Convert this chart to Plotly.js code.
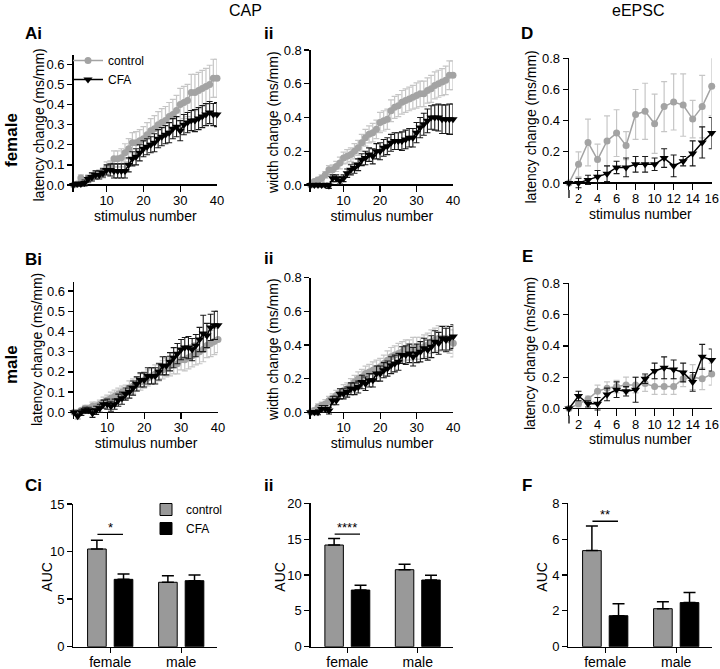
<!DOCTYPE html>
<html>
<head>
<meta charset="utf-8">
<script src="https://cdn.plot.ly/plotly-3.0.1.min.js"></script>
<style>html,body{margin:0;padding:0;background:#fff}#chart{width:720px;height:669px}</style>
</head>
<body>
<div id="chart"></div>
<script>
// ---------- data ----------
const stim40 = [1,2,3,4,5,6,7,8,9,10,11,12,13,14,15,16,17,18,19,20,21,22,23,24,25,26,27,28,29,30,31,32,33,34,35,36,37,38,39,40];
const stim16 = [1,2,3,4,5,6,7,8,9,10,11,12,13,14,15,16];

// Ai: female CAP latency change
const aiControl = [0,0.005,0.035,0.02,0.03,0.04,0.05,0.055,0.06,0.085,0.09,0.13,0.13,0.135,0.16,0.18,0.21,0.21,0.22,0.23,0.25,0.27,0.28,0.3,0.31,0.32,0.34,0.35,0.37,0.4,0.41,0.42,0.46,0.46,0.47,0.48,0.49,0.5,0.53,0.53];
const aiControlErr = [0,0.01,0.015,0.015,0.02,0.02,0.02,0.02,0.025,0.03,0.03,0.04,0.04,0.045,0.045,0.05,0.05,0.055,0.055,0.06,0.06,0.06,0.065,0.065,0.07,0.07,0.07,0.075,0.075,0.08,0.08,0.08,0.09,0.09,0.09,0.09,0.09,0.095,0.095,0.095];
const aiCFA = [0,0.005,0.005,0.01,0.03,0.04,0.05,0.05,0.06,0.075,0.075,0.07,0.07,0.07,0.07,0.1,0.13,0.14,0.16,0.18,0.19,0.2,0.21,0.23,0.24,0.25,0.26,0.28,0.29,0.27,0.3,0.31,0.32,0.32,0.33,0.34,0.35,0.36,0.35,0.35];
const aiCFAErr = [0,0.01,0.01,0.015,0.015,0.02,0.02,0.02,0.02,0.025,0.03,0.035,0.035,0.035,0.035,0.035,0.035,0.04,0.04,0.04,0.04,0.04,0.045,0.045,0.045,0.045,0.05,0.05,0.05,0.05,0.05,0.05,0.05,0.055,0.055,0.055,0.055,0.055,0.055,0.06];

// Aii: female CAP width change
const aiiControl = [0,0.02,0.03,0.04,0.06,0.09,0.09,0.11,0.13,0.16,0.17,0.18,0.2,0.22,0.25,0.28,0.3,0.31,0.33,0.37,0.38,0.39,0.44,0.46,0.47,0.49,0.5,0.51,0.52,0.53,0.54,0.54,0.56,0.57,0.59,0.6,0.61,0.62,0.65,0.65];
const aiiControlErr = [0,0.01,0.015,0.02,0.02,0.025,0.03,0.03,0.035,0.035,0.04,0.04,0.045,0.045,0.05,0.05,0.05,0.055,0.055,0.06,0.06,0.06,0.065,0.065,0.065,0.07,0.07,0.07,0.07,0.075,0.075,0.075,0.075,0.08,0.08,0.08,0.08,0.085,0.085,0.085];
const aiiCFA = [0,0,0,0,0,-0.005,0.04,0.04,0.025,0.04,0.07,0.09,0.1,0.12,0.15,0.16,0.18,0.17,0.2,0.2,0.22,0.23,0.25,0.26,0.26,0.26,0.27,0.28,0.28,0.31,0.34,0.36,0.38,0.4,0.4,0.4,0.39,0.39,0.39,0.39];
const aiiCFAErr = [0,0.01,0.01,0.01,0.01,0.015,0.02,0.02,0.02,0.02,0.025,0.03,0.03,0.035,0.035,0.04,0.04,0.045,0.045,0.05,0.05,0.05,0.05,0.05,0.05,0.055,0.055,0.055,0.055,0.06,0.06,0.065,0.07,0.07,0.075,0.08,0.085,0.085,0.09,0.09];

// Bi: male CAP latency change
const biControl = [0,0,0.01,0.02,0.02,0.03,0.03,0.04,0.05,0.06,0.07,0.08,0.09,0.1,0.1,0.12,0.13,0.14,0.15,0.16,0.17,0.18,0.19,0.2,0.21,0.22,0.23,0.24,0.24,0.26,0.26,0.27,0.28,0.29,0.3,0.31,0.33,0.34,0.35,0.36];
const biControlErr = [0,0.01,0.01,0.015,0.015,0.02,0.02,0.02,0.025,0.025,0.03,0.03,0.03,0.03,0.035,0.035,0.035,0.035,0.04,0.04,0.04,0.04,0.045,0.045,0.045,0.045,0.05,0.05,0.05,0.05,0.055,0.055,0.055,0.055,0.06,0.06,0.06,0.065,0.065,0.065];
const biCFA = [0,-0.02,0,0.01,0.01,-0.005,0.01,0.02,0.04,0.04,0.03,0.04,0.06,0.07,0.09,0.1,0.12,0.14,0.16,0.16,0.18,0.18,0.18,0.2,0.23,0.23,0.25,0.27,0.29,0.31,0.32,0.32,0.31,0.33,0.36,0.39,0.38,0.42,0.43,0.43];
const biCFAErr = [0,0.015,0.015,0.015,0.015,0.02,0.02,0.02,0.02,0.025,0.025,0.025,0.03,0.03,0.03,0.03,0.035,0.035,0.035,0.035,0.04,0.04,0.04,0.04,0.045,0.045,0.045,0.05,0.05,0.05,0.05,0.055,0.055,0.055,0.06,0.09,0.06,0.065,0.07,0.07];

// Bii: male CAP width change
const biiControl = [0,0.01,0.03,0.04,0.05,0.07,0.08,0.1,0.11,0.13,0.14,0.16,0.18,0.2,0.21,0.23,0.24,0.25,0.26,0.27,0.29,0.31,0.33,0.34,0.35,0.36,0.37,0.37,0.38,0.38,0.38,0.39,0.4,0.42,0.43,0.44,0.44,0.44,0.43,0.41];
const biiControlErr = [0,0.015,0.02,0.02,0.025,0.025,0.03,0.03,0.03,0.035,0.035,0.04,0.04,0.04,0.045,0.045,0.045,0.05,0.05,0.05,0.05,0.055,0.055,0.055,0.06,0.06,0.06,0.06,0.065,0.065,0.065,0.07,0.07,0.07,0.07,0.075,0.075,0.075,0.08,0.08];
const biiCFA = [0,0,0,0.02,0.02,0.01,0.07,0.07,0.11,0.11,0.12,0.14,0.14,0.15,0.18,0.17,0.19,0.19,0.23,0.23,0.25,0.26,0.28,0.29,0.3,0.34,0.34,0.35,0.33,0.35,0.36,0.38,0.37,0.39,0.42,0.41,0.44,0.43,0.44,0.45];
const biiCFAErr = [0,0.01,0.015,0.02,0.02,0.02,0.025,0.025,0.03,0.03,0.03,0.035,0.035,0.035,0.04,0.04,0.04,0.04,0.045,0.045,0.045,0.045,0.05,0.05,0.05,0.05,0.055,0.055,0.055,0.055,0.06,0.06,0.06,0.065,0.065,0.065,0.07,0.07,0.07,0.07];

// D: female eEPSC latency change
const dControl = [0,0.12,0.26,0.15,0.27,0.32,0.24,0.44,0.46,0.38,0.49,0.52,0.5,0.41,0.49,0.62];
const dControlErr = [0,0.08,0.15,0.1,0.16,0.15,0.09,0.16,0.18,0.19,0.16,0.18,0.2,0.12,0.2,0.19];
const dCFA = [0,0,0.02,0.04,0.06,0.1,0.1,0.12,0.12,0.12,0.16,0.11,0.14,0.19,0.26,0.32];
const dCFAErr = [0,0.03,0.03,0.04,0.05,0.04,0.06,0.05,0.05,0.04,0.06,0.07,0.03,0.08,0.1,0.1];

// E: male eEPSC latency change
const eControl = [0,0.03,0.06,0.11,0.13,0.14,0.15,0.15,0.16,0.14,0.14,0.14,0.19,0.2,0.19,0.22];
const eControlErr = [0,0.02,0.02,0.04,0.04,0.04,0.05,0.05,0.05,0.05,0.05,0.05,0.05,0.08,0.07,0.07];
const eCFA = [0,0.08,0.03,0.03,0.09,0.12,0.11,0.12,0.19,0.24,0.26,0.25,0.23,0.17,0.33,0.31];
const eCFAErr = [0,0.03,0.02,0.04,0.04,0.05,0.03,0.08,0.03,0.05,0.07,0.06,0.06,0.06,0.08,0.07];

// AUC bars
const sexes = ['female','male'];
const ciControl = [10.27, 6.77];   const ciControlErr = [0.93, 0.70];
const ciCFA = [7.08, 6.94];        const ciCFAErr = [0.56, 0.60];
const ciiControl = [14.18, 10.74]; const ciiControlErr = [0.92, 0.75];
const ciiCFA = [7.9, 9.3];         const ciiCFAErr = [0.66, 0.65];
const fControl = [5.36, 2.12];     const fControlErr = [1.38, 0.39];
const fCFA = [1.73, 2.46];         const fCFAErr = [0.67, 0.56];
const sigLevels = {ci: 11.8, cii: 15.7, f: 7.0};
const sigLabels = {ci: '*', cii: '****', f: '**'};

// ---------- layout helpers ----------
const W = 720, H = 669;
const FONT = 'Liberation Sans, Arial, Helvetica, sans-serif';
const px = v => v / W;
const py = v => 1 - v / H;
const GREY = '#a3a3a3', GREY_ERR = '#c6c6c6';

const traces = [];
function lineTraces(n, x, c, ce, f, fe, legendOn) {
  const xa = 'x' + (n === 1 ? '' : n), ya = 'y' + (n === 1 ? '' : n);
  traces.push({
    type: 'scatter', mode: 'lines+markers', x: x, y: c, xaxis: xa, yaxis: ya,
    name: 'control', showlegend: !!legendOn, legend: 'legend', cliponaxis: false,
    line: {color: GREY, width: 1.5},
    marker: {symbol: 'circle', size: 7, color: GREY},
    error_y: {type: 'data', array: ce, color: GREY_ERR, thickness: 1.2, width: 3}
  });
  traces.push({
    type: 'scatter', mode: 'lines+markers', x: x, y: f, xaxis: xa, yaxis: ya,
    name: 'CFA', showlegend: !!legendOn, legend: 'legend', cliponaxis: false,
    line: {color: '#000', width: 1.5},
    marker: {symbol: 'triangle-down', size: 8, color: '#000'},
    error_y: {type: 'data', array: fe, color: '#1a1a1a', thickness: 1.1, width: 3}
  });
}
function barTraces(n, c, ce, f, fe, legendOn) {
  const xa = 'x' + n, ya = 'y' + n;
  traces.push({
    type: 'bar', x: sexes, y: c, xaxis: xa, yaxis: ya, name: 'control',
    showlegend: !!legendOn, legend: 'legend2',
    marker: {color: '#999999', line: {color: '#000', width: 1}},
    error_y: {type: 'data', symmetric: false, array: ce, arrayminus: [0,0], color: '#000', thickness: 1.5, width: 6}
  });
  traces.push({
    type: 'bar', x: sexes, y: f, xaxis: xa, yaxis: ya, name: 'CFA',
    showlegend: !!legendOn, legend: 'legend2',
    marker: {color: '#000000', line: {color: '#000', width: 1}},
    error_y: {type: 'data', symmetric: false, array: fe, arrayminus: [0,0], color: '#000', thickness: 1.5, width: 6}
  });
}

lineTraces(1, stim40, aiControl, aiControlErr, aiCFA, aiCFAErr, true);
lineTraces(2, stim40, aiiControl, aiiControlErr, aiiCFA, aiiCFAErr);
lineTraces(3, stim16, dControl, dControlErr, dCFA, dCFAErr);
lineTraces(4, stim40, biControl, biControlErr, biCFA, biCFAErr);
lineTraces(5, stim40, biiControl, biiControlErr, biiCFA, biiCFAErr);
lineTraces(6, stim16, eControl, eControlErr, eCFA, eCFAErr);
barTraces(7, ciControl, ciControlErr, ciCFA, ciCFAErr, true);
barTraces(8, ciiControl, ciiControlErr, ciiCFA, ciiCFAErr);
barTraces(9, fControl, fControlErr, fCFA, fCFAErr);

const axBase = {linecolor: '#000', linewidth: 1.3, tickcolor: '#000',
  tickwidth: 1.3, showgrid: false, tickfont: {family: FONT, size: 13, color: '#000'}};

const layout = {
  width: W, height: H, margin: {l: 0, r: 0, t: 0, b: 0},
  paper_bgcolor: '#fff', plot_bgcolor: 'rgba(0,0,0,0)',
  font: {family: FONT, size: 13, color: '#000'},
  barmode: 'group', bargap: 0.25, bargroupgap: 0.3,
  showlegend: true,
  legend: {x: px(68), y: py(46), xanchor: 'left', yanchor: 'top', bgcolor: 'rgba(0,0,0,0)',
    font: {family: FONT, size: 12}, tracegroupgap: 0, itemwidth: 30},
  legend2: {x: px(146), y: py(495), xanchor: 'left', yanchor: 'top', bgcolor: 'rgba(0,0,0,0)',
    font: {family: FONT, size: 12}, tracegroupgap: 0, itemwidth: 30},
  annotations: [], shapes: []
};

// line panel geometry: [n, left, right, top, bottom, yrange, xrange, xtickvals, ytickvals, axis-extension bottom px]
const linePanels = [
  [1, 73.5, 217, 55, 192, [-0.0348, 0.646], [1, 40], [10,20,30,40], [0,0.1,0.2,0.3,0.4,0.5,0.6], 0],
  [2, 310.7, 453, 50, 192, [-0.0415, 0.8], [1, 40], [10,20,30,40], [0,0.2,0.4,0.6,0.8], 0],
  [3, 569, 711.7, 58.3, 190, [-0.0449, 0.8], [1, 16], [2,4,6,8,10,12,14,16], [0,0.2,0.4,0.6,0.8], 198],
  [4, 74, 218, 282, 419.3, [-0.0346, 0.6444], [1, 40], [10,20,30,40], [0,0.1,0.2,0.3,0.4,0.5,0.6], 0],
  [5, 310.7, 453.3, 277.7, 419.3, [-0.0416, 0.8], [1, 40], [10,20,30,40], [0,0.2,0.4,0.6,0.8], 0],
  [6, 569, 711.7, 283.3, 415.5, [-0.0447, 0.8], [1, 16], [2,4,6,8,10,12,14,16], [0,0.2,0.4,0.6,0.8], 423.5]
];
linePanels.forEach(p => {
  const [n, l, r, t, b, yr, xr, xt, yt, ext] = p;
  const k = n === 1 ? '' : n;
  layout['xaxis' + k] = Object.assign({}, axBase, {
    domain: [px(l), px(r)], range: xr, anchor: 'y' + k,
    showline: false, zeroline: false, ticks: 'inside', ticklen: 7,
    tickvals: xt, ticklabelstandoff: -1,
    title: {text: 'stimulus number', font: {family: FONT, size: 14}, standoff: 0}
  });
  layout['yaxis' + k] = Object.assign({}, axBase, {
    domain: [py(b), py(t)], range: yr, anchor: 'x' + k,
    showline: true, ticks: 'outside', ticklen: 5,
    zeroline: true, zerolinecolor: '#000', zerolinewidth: 1.3,
    tickvals: yt, tickformat: '.1f'
  });
  if (ext) {
    layout.shapes.push({type: 'line', xref: 'paper', yref: 'paper', x0: px(l), x1: px(l),
      y0: py(b), y1: py(ext), line: {color: '#000', width: 1.3}});
  }
});

// bar panel geometry
const barPanels = [
  [7, 73.3, 216.7, 504, 646.7, [0, 15], [0,5,10,15], 'ci'],
  [8, 310.7, 453, 503.3, 646.7, [0, 20], [0,5,10,15,20], 'cii'],
  [9, 568.3, 711.7, 503.3, 646.7, [0, 8], [0,2,4,6,8], 'f']
];
barPanels.forEach(p => {
  const [n, l, r, t, b, yr, yt, key] = p;
  layout['xaxis' + n] = Object.assign({}, axBase, {
    domain: [px(l), px(r)], range: [-0.52, 1.5], anchor: 'y' + n, type: 'category',
    showline: true, zeroline: false, ticks: 'outside', ticklen: 5, ticklabelstandoff: -3,
    tickfont: {family: FONT, size: 14, color: '#000'}
  });
  layout['yaxis' + n] = Object.assign({}, axBase, {
    domain: [py(b), py(t)], range: yr, anchor: 'x' + n, tickvals: yt,
    showline: true, zeroline: false, ticks: 'outside', ticklen: 5
  });
  layout.shapes.push({type: 'line', xref: 'x' + n, yref: 'y' + n, x0: -0.18, x1: 0.18,
    y0: sigLevels[key], y1: sigLevels[key], line: {color: '#000', width: 1.3}});
  layout.annotations.push({xref: 'x' + n, yref: 'y' + n, x: 0, y: sigLevels[key], text: sigLabels[key],
    showarrow: false, yanchor: 'bottom', yshift: -3, font: {family: FONT, size: 13}});
});

// text helpers
function ann(text, x, y, opts) {
  layout.annotations.push(Object.assign({xref: 'paper', yref: 'paper', x: px(x), y: py(y), text: text,
    showarrow: false, xanchor: 'left', yanchor: 'middle', font: {family: FONT, size: 17, color: '#000'}}, opts || {}));
}
// y-axis titles
const yTitles = [
  ['latency change (ms/mm)', 38, 125.5], ['width change (ms/mm)', 273, 123], ['latency change (ms/mm)', 530, 127.5],
  ['latency change (ms/mm)', 37, 350], ['width change (ms/mm)', 273, 350], ['latency change (ms/mm)', 530, 354],
  ['AUC', 47, 576.7], ['AUC', 280, 576.7], ['AUC', 542, 576.7]
];
yTitles.forEach(t => ann(t[0], t[1], t[2], {xanchor: 'center', textangle: -90, font: {family: FONT, size: 14, color: '#000'}}));

// panel labels and group titles
ann('<b>Ai</b>', 23, 33);
ann('<b>ii</b>', 262, 33);
ann('<b>D</b>', 519, 33);
ann('<b>Bi</b>', 23, 259);
ann('<b>ii</b>', 262, 258);
ann('<b>E</b>', 520, 257);
ann('<b>Ci</b>', 23, 485);
ann('<b>ii</b>', 262, 485);
ann('<b>F</b>', 520, 485);
ann('CAP', 245, 11, {xanchor: 'center', font: {family: FONT, size: 16, color: '#000'}});
ann('eEPSC', 638, 11, {xanchor: 'center', font: {family: FONT, size: 16, color: '#000'}});
ann('<b>female</b>', 12, 140, {xanchor: 'center', textangle: -90, font: {family: FONT, size: 17, color: '#000'}});
ann('<b>male</b>', 12, 365, {xanchor: 'center', textangle: -90, font: {family: FONT, size: 17, color: '#000'}});

Plotly.newPlot('chart', traces, layout, {displayModeBar: false, staticPlot: true});
</script>
</body>
</html>
